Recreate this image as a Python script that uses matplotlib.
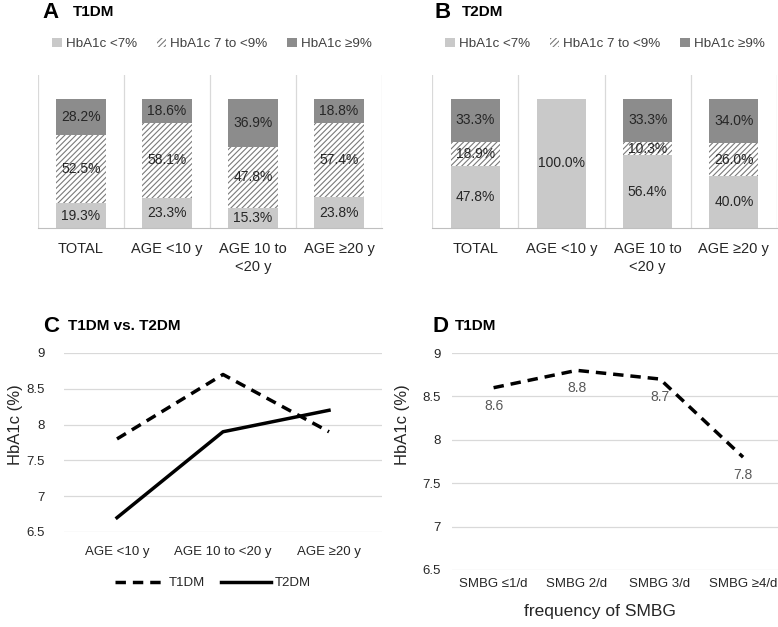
import matplotlib.pyplot as plt
from matplotlib.patches import Patch
from matplotlib.lines import Line2D

plt.rcParams['font.family'] = ['Liberation Sans', 'DejaVu Sans']
plt.rcParams['hatch.linewidth'] = 0.8

# bar panels
bar_cats = ['TOTAL', 'AGE <10 y', 'AGE 10 to\n<20 y', 'AGE \u226520 y']
t1_low = [19.3, 23.3, 15.3, 23.8]
t1_mid = [52.5, 58.1, 47.8, 57.4]
t1_high = [28.2, 18.6, 36.9, 18.8]
t2_low = [47.8, 100.0, 56.4, 40.0]
t2_mid = [18.9, 0.0, 10.3, 26.0]
t2_high = [33.3, 0.0, 33.3, 34.0]
legend_labels = ['HbA1c <7%', 'HbA1c 7 to <9%', 'HbA1c \u22659%']

# line panel C
age_cats = ['AGE <10 y', 'AGE 10 to <20 y', 'AGE \u226520 y']
t1_hba1c = [7.8, 8.7, 7.9]
t2_hba1c = [6.7, 7.9, 8.2]

# line panel D
smbg_cats = ['SMBG \u22641/d', 'SMBG 2/d', 'SMBG 3/d', 'SMBG \u22654/d']
smbg_hba1c = [8.6, 8.8, 8.7, 7.8]

c_low = '#c9c9c9'
c_high = '#8c8c8c'
c_hatch = '#7a7a7a'
grid_c = '#d9d9d9'
txt_c = '#262626'

fig = plt.figure(figsize=(7.78, 6.27), dpi=100)


def bar_panel(ax, low, mid, high):
    x = range(len(bar_cats))
    w = 0.57
    ax.bar(x, low, w, color=c_low, linewidth=0)
    ax.bar(x, mid, w, bottom=low, facecolor='white', edgecolor=c_hatch,
           hatch='//////', linewidth=0)
    bottom2 = [a + b for a, b in zip(low, mid)]
    ax.bar(x, high, w, bottom=bottom2, color=c_high, linewidth=0)
    for i in x:
        base = 0
        for v in (low[i], mid[i], high[i]):
            if v > 0:
                ax.text(i, base + v / 2, '%.1f%%' % v, ha='center', va='center',
                        fontsize=10, color=txt_c)
            base += v
    ax.set_xlim(-0.5, len(bar_cats) - 0.5)
    ax.set_ylim(0, 118.6)
    for xv in [-0.5, 0.5, 1.5, 2.5, 3.5]:
        ax.axvline(xv, color=grid_c, lw=0.9, zorder=0)
    for s in ['top', 'right', 'left']:
        ax.spines[s].set_visible(False)
    ax.spines['bottom'].set_color('#bfbfbf')
    ax.set_yticks([])
    ax.set_xticks(list(x))
    ax.set_xticklabels(bar_cats, fontsize=10.5, color=txt_c, linespacing=1.4)
    ax.tick_params(axis='x', length=0, pad=10)


bar_handles = [Patch(facecolor=c_low, edgecolor='none'),
               Patch(facecolor='white', edgecolor=c_hatch, hatch='//////', linewidth=0),
               Patch(facecolor=c_high, edgecolor='none')]

axA = fig.add_axes([38 / 778, 0.6364, 344 / 778, 0.244])
bar_panel(axA, t1_low, t1_mid, t1_high)
fig.legend(bar_handles, legend_labels, loc='center', bbox_to_anchor=(212 / 778, 1 - 44 / 627),
           ncol=3, frameon=False, fontsize=9.6, handlelength=0.7, handleheight=0.7,
           handletextpad=0.3, columnspacing=1.5, labelcolor='#404040')

axB = fig.add_axes([432 / 778, 0.6364, 345 / 778, 0.244])
bar_panel(axB, t2_low, t2_mid, t2_high)
fig.legend(bar_handles, legend_labels, loc='center', bbox_to_anchor=(605 / 778, 1 - 44 / 627),
           ncol=3, frameon=False, fontsize=9.6, handlelength=0.7, handleheight=0.7,
           handletextpad=0.3, columnspacing=1.5, labelcolor='#404040')

# panel C
axC = fig.add_axes([64 / 778, 1 - 532 / 627, 318 / 778, 179 / 627])
axC.plot(range(3), t1_hba1c, color='black', lw=2.5, ls=(0, (3, 2)))
axC.plot(range(3), t2_hba1c, color='black', lw=2.5)
axC.set_xlim(-0.5, 2.5)
axC.set_ylim(6.5, 9)
axC.set_yticks([6.5, 7, 7.5, 8, 8.5, 9])
axC.set_yticklabels(['6.5', '7', '7.5', '8', '8.5', '9'])
axC.set_xticks(range(3))
axC.set_xticklabels(age_cats)
axC.grid(axis='y', color=grid_c, lw=0.9)
axC.set_axisbelow(True)
for s in axC.spines.values():
    s.set_visible(False)
axC.tick_params(length=0, labelsize=9.5, labelcolor=txt_c)
axC.tick_params(axis='y', pad=14)
axC.tick_params(axis='x', pad=10)
axC.set_ylabel('HbA1c (%)', fontsize=12, color=txt_c)
axC.yaxis.set_label_coords(-0.13, 0.6)
fig.legend([Line2D([], [], color='black', lw=2.5, ls=(0, (3, 2))),
            Line2D([], [], color='black', lw=2.5)], ['T1DM', 'T2DM'],
           loc='center', bbox_to_anchor=(213 / 778, 1 - 583 / 627), ncol=2,
           frameon=False, fontsize=9.5, handlelength=3.8, handletextpad=0.3,
           columnspacing=1.2, labelcolor=txt_c)

# panel D
axD = fig.add_axes([452 / 778, 1 - 570 / 627, 326 / 778, 217 / 627])
axD.plot(range(4), smbg_hba1c, color='black', lw=2.5, ls=(0, (3, 2)))
for i, v in enumerate(smbg_hba1c):
    axD.annotate('%.1f' % v, (i, v), xytext=(0, -13), textcoords='offset points',
                 ha='center', va='center', fontsize=10, color='#595959')
axD.set_xlim(-0.5, 3.42)
axD.set_ylim(6.5, 9)
axD.set_yticks([6.5, 7, 7.5, 8, 8.5, 9])
axD.set_yticklabels(['6.5', '7', '7.5', '8', '8.5', '9'])
axD.set_xticks(range(4))
axD.set_xticklabels(smbg_cats)
axD.grid(axis='y', color=grid_c, lw=0.9)
axD.set_axisbelow(True)
for s in axD.spines.values():
    s.set_visible(False)
axD.tick_params(length=0, labelsize=9.5, labelcolor=txt_c)
axD.tick_params(axis='y', labelsize=9.5, pad=8)
axD.tick_params(axis='x', pad=6)
axD.set_ylabel('HbA1c (%)', fontsize=12, color=txt_c)
axD.yaxis.set_label_coords(-0.13, 0.67)
axD.set_xlabel('frequency of SMBG', fontsize=12.5, color=txt_c)
axD.xaxis.set_label_coords(0.455, -0.155)

# panel titles
for letter, lx, sub, sx, y in [('A', 42, 'T1DM', 73, 12), ('B', 435, 'T2DM', 462, 12),
                               ('C', 43, 'T1DM vs. T2DM', 68, 326),
                               ('D', 433, 'T1DM', 455, 326)]:
    fig.text(lx / 778, 1 - y / 627, letter, fontsize=16, fontweight='bold', va='center')
    fig.text(sx / 778, 1 - y / 627, sub, fontsize=11, fontweight='bold', va='center')

fig.savefig('out.png', dpi=100)
